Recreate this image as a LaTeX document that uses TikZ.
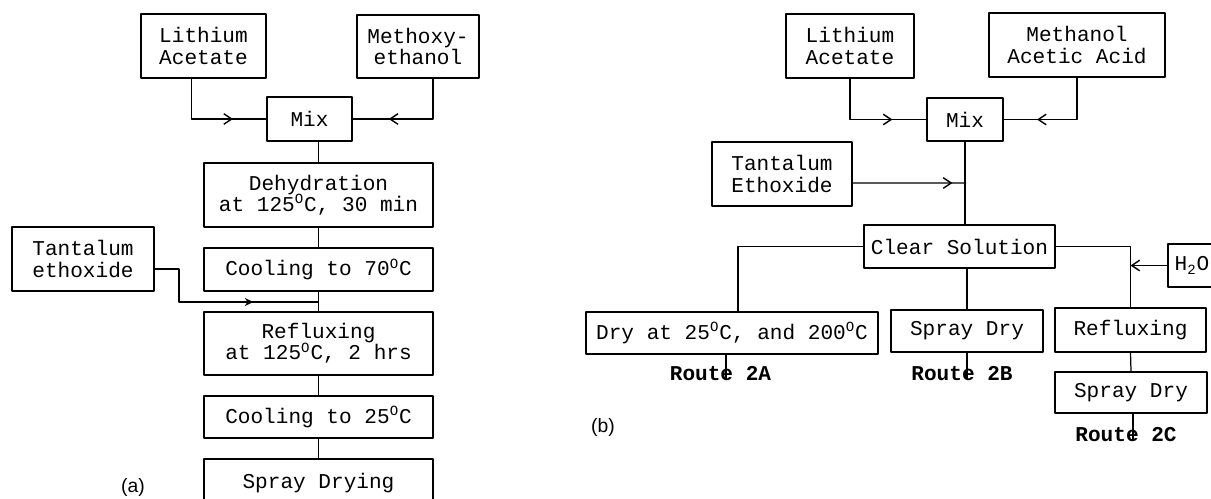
\documentclass[tikz,border=0pt]{standalone}
\usepackage{fontspec}
\setmonofont{Liberation Mono}
\newfontfamily\capfont{Liberation Sans}
\usetikzlibrary{arrows.meta,decorations.markings}
\begin{document}
\begin{tikzpicture}[x=0.02cm, y=-0.02cm, line width=0.7pt, line join=round,
	font=\ttfamily\fontsize{12}{12.2}\selectfont,
	box/.style 2 args={draw, inner sep=0pt, align=center, minimum width=#1, minimum height=#2},
	route/.style={font=\ttfamily\bfseries\fontsize{12}{12}\selectfont, inner sep=0pt},
	panel/.style={font=\capfont\fontsize{11}{13}\selectfont, inner sep=0pt},
	barb/.style={postaction={decorate}, decoration={markings, mark=at position #1 with {\arrow{Straight Barb[length=4.5pt,width=6pt,line width=0.8pt]}}}},
	fillbarb/.style={postaction={decorate}, decoration={markings, mark=at position #1 with {\arrow{Stealth[length=5pt,width=4.5pt]}}}}]
	\useasboundingbox (0,0) rectangle (1211,498);
	\clip (0,0) rectangle (1211,498);
	% (a)
	\node[box={2.5cm}{1.28cm}] (la) at (203.5,46) {Lithium\\Acetate};
	\node[box={2.44cm}{1.26cm}] (me) at (418,46.5) {Methoxy-\\ethanol};
	\node[box={1.7cm}{0.88cm}] (mixa) at (309.5,119) {Mix};
	\node[box={4.58cm}{1.28cm}] (dehy) at (318.5,195) {Dehydration\\at 125\textsuperscript{O}C, 30 min};
	\node[box={4.58cm}{0.86cm}] (cool70) at (318.5,269.5) {Cooling to 70\textsuperscript{O}C};
	\node[box={2.84cm}{1.28cm}] (ta) at (83,259) {Tantalum\\ethoxide};
	\node[box={4.58cm}{1.26cm}] (refl) at (318.5,343.5) {Refluxing\\at 125\textsuperscript{O}C, 2 hrs};
	\node[box={4.58cm}{0.84cm}] (cool25) at (318.5,417) {Cooling to 25\textsuperscript{O}C};
	\node[box={4.58cm}{0.96cm}] (spray) at (318.5,483) {Spray Drying};
	\node[panel] (laba) at (133,487) {(a)};
	\coordinate (tabend) at (179,302);
	\coordinate (tajoin) at (318.5,302);
	\draw[barb=0.71] ([xshift=-0.24cm]la.south) |- (mixa.west);
	\draw[barb=0.70] ([xshift=0.3cm]me.south) |- (mixa.east);
	\draw (mixa.south -| dehy.north) -- (dehy.north);
	\draw (dehy.south) -- (cool70.north);
	\draw (cool70.south) -- (refl.north);
	\draw[fillbarb=0.67] ([yshift=-0.2cm]ta.east) -| (tabend) -- (tajoin);
	\draw (refl.south) -- (cool25.north);
	\draw (cool25.south) -- (spray.north);
	% (b)
	\node[box={2.56cm}{1.28cm}] (lb) at (850,46) {Lithium\\Acetate};
	\node[box={3.52cm}{1.28cm}] (mac) at (1077,45) {Methanol\\Acetic Acid};
	\node[box={1.52cm}{0.86cm}] (mixb) at (965,119.5) {Mix};
	\node[box={2.8cm}{1.28cm}] (teb) at (782,174) {Tantalum\\Ethoxide};
	\node[box={3.82cm}{0.86cm}] (cs) at (959.5,246.5) {Clear Solution};
	\node[box={5.84cm}{0.84cm}] (dry) at (732,333) {Dry at 25\textsuperscript{O}C, and 200\textsuperscript{O}C};
	\node[box={3.04cm}{0.84cm}] (sdb) at (967,331) {Spray Dry};
	\node[box={3.02cm}{0.88cm}] (refb) at (1130.5,330) {Refluxing};
	\node[box={3.04cm}{0.82cm}] (sdc) at (1131,392.5) {Spray Dry};
	\node[box={0.96cm}{0.86cm}] (h2o) at (1192,265.5) {H\textsubscript{2}O};
	\node[route] (r2a) at (720.5,374) {Route 2A};
	\node[route] (r2b) at (962,374) {Route 2B};
	\node[route] (r2c) at (1126,435) {Route 2C};
	\node[panel] (labb) at (603,427) {(b)};
	\coordinate (tebjoin) at (966,183);
	\coordinate (r2aend) at (726,379);
	\coordinate (r2bend) at (967,379);
	\coordinate (r2cend) at (1133,440);
	\draw[barb=0.71] (lb.south) |- (mixb.west);
	\draw[barb=0.71] (mac.south) |- (mixb.east);
	\draw[barb=0.88] ([yshift=-0.18cm]teb.east) -- (tebjoin);
	\draw (mixb.south) -- (mixb.south |- cs.north);
	\draw (cs.west) -| ([xshift=0.12cm]dry.north);
	\draw (cs.south -| sdb.north) -- (sdb.north);
	\draw (cs.east) -| (refb.north);
	\draw[-{Straight Barb[length=4.5pt,width=6pt,line width=0.8pt]}] (h2o.west) -- (h2o.west -| refb.north);
	\draw (refb.south) -- (sdc.north);
	\draw (dry.south -| r2aend) -- (r2aend);
	\draw (sdb.south -| r2bend) -- (r2bend);
	\draw (sdc.south -| r2cend) -- (r2cend);
\end{tikzpicture}
\end{document}
